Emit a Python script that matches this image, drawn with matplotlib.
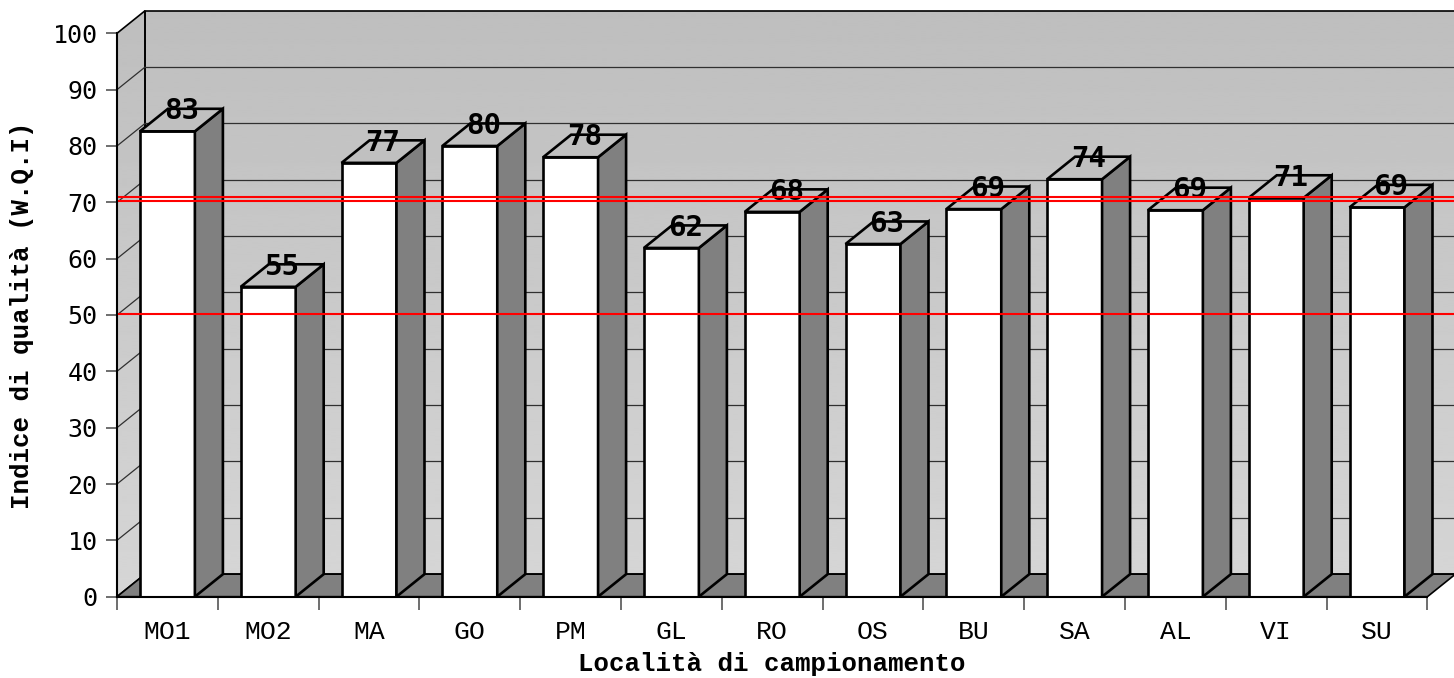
import matplotlib.pyplot as plt
import numpy as np
from matplotlib.patches import Polygon

# Indice di qualità per località di campionamento
localita = ['MO1', 'MO2', 'MA', 'GO', 'PM', 'GL', 'RO', 'OS', 'BU', 'SA', 'AL', 'VI', 'SU']
wqi = [82.6, 55.0, 77.0, 80.0, 78.0, 61.9, 68.3, 62.6, 68.8, 74.1, 68.6, 70.8, 69.1]
soglie = [50.2, 70.2, 71.0]
yticks = list(range(0, 101, 10))

n = len(localita)
dx, dy = 0.278, 4.0      # profondità della prospettiva
w = 0.545                # larghezza barra
grigio_scuro = '#808080'
grigio_chiaro = '#c0c0c0'

fig = plt.figure(figsize=(14.54, 6.78), dpi=100)
ax = fig.add_axes([117 / 1454, (678 - 596.7) / 678, 1337 / 1454, 596.7 / 678])
ax.set_xlim(0, 1337 / 100.8)
ax.set_ylim(0, 596.7 / 5.634)

# pareti con sfumatura
sfumatura = np.linspace(214, 190, 256)[:, None] / 255
pareti = [
    [(dx, dy), (n + dx, dy), (n + dx, 100 + dy), (dx, 100 + dy)],
    [(0, 0), (dx, dy), (dx, 100 + dy), (0, 100)],
]
for vertici in pareti:
    bordo = Polygon(vertici, closed=True, facecolor='none', edgecolor='black', lw=1.2, zorder=1.2)
    ax.add_patch(bordo)
    im = ax.imshow(sfumatura, cmap='gray', vmin=0, vmax=1, origin='lower', aspect='auto',
                   extent=[0, n + dx, 0, 100 + dy], interpolation='bilinear', zorder=1)
    im.set_clip_path(bordo)

# griglia su parete di fondo e parete sinistra
for v in yticks[1:-1]:
    ax.plot([dx, n + dx], [v + dy, v + dy], color='#303030', lw=0.9, zorder=1.3)
    ax.plot([0, dx], [v, v + dy], color='#303030', lw=0.9, zorder=1.3)

# pavimento
ax.add_patch(Polygon([(0, 0), (n, 0), (n + dx, dy), (dx, dy)], closed=True,
                     facecolor=grigio_scuro, edgecolor='black', lw=1.2, zorder=1.4))

# barre 3D
for i, v in enumerate(wqi):
    c = i + 0.5
    x0, x1 = c - w / 2, c + w / 2
    facce = [
        ([(x0, 0), (x1, 0), (x1, v), (x0, v)], 'white'),
        ([(x1, 0), (x1 + dx, dy), (x1 + dx, v + dy), (x1, v)], grigio_scuro),
        ([(x0, v), (x1, v), (x1 + dx, v + dy), (x0 + dx, v + dy)], grigio_chiaro),
    ]
    for vertici, colore in facce:
        ax.add_patch(Polygon(vertici, closed=True, facecolor=colore, edgecolor='black',
                             lw=1.9, joinstyle='miter', zorder=3))
    ax.text(c + dx / 2, v + dy - 0.4, f'{v:.0f}', ha='center', va='center', fontsize=21,
            fontweight='bold', family='DejaVu Sans Mono', zorder=5)

# linee di soglia
for s in soglie:
    ax.plot([0.02, ax.get_xlim()[1]], [s, s], color='red', lw=1.5, zorder=6)

# assi
for lato in ['top', 'right']:
    ax.spines[lato].set_visible(False)
ax.spines['left'].set_bounds(0, 100)
ax.spines['bottom'].set_bounds(0, n)
for lato in ['left', 'bottom']:
    ax.spines[lato].set_linewidth(1.5)
    ax.spines[lato].set_zorder(4)

ax.set_yticks(yticks)
ax.set_yticklabels([str(t) for t in yticks], family='DejaVu Sans Mono', fontsize=18)
ax.tick_params(axis='y', length=8, width=1.2, color='#555555', pad=6)

ax.set_xticks(np.arange(n + 1))
ax.set_xticklabels([])
ax.set_xticks(np.arange(n) + 0.5, minor=True)
ax.set_xticklabels(localita, minor=True, family='Liberation Mono', fontsize=19)
ax.tick_params(axis='x', which='major', length=9, width=1.2, color='#555555')
ax.tick_params(axis='x', which='minor', length=0, pad=17)

ax.set_ylabel('Indice di qualità (W.Q.I)', fontsize=18.5, fontweight='bold',
              family='Liberation Mono', va='center')
ax.yaxis.set_label_coords((22 - 117) / 1337, 50 / 105.9)
ax.set_xlabel('Località di campionamento', fontsize=18.5, fontweight='bold',
              family='Liberation Mono', va='center')
ax.xaxis.set_label_coords(6.5 / 13.264, (596.7 - 664) / 596.7)

fig.savefig('out.png', dpi=100)
